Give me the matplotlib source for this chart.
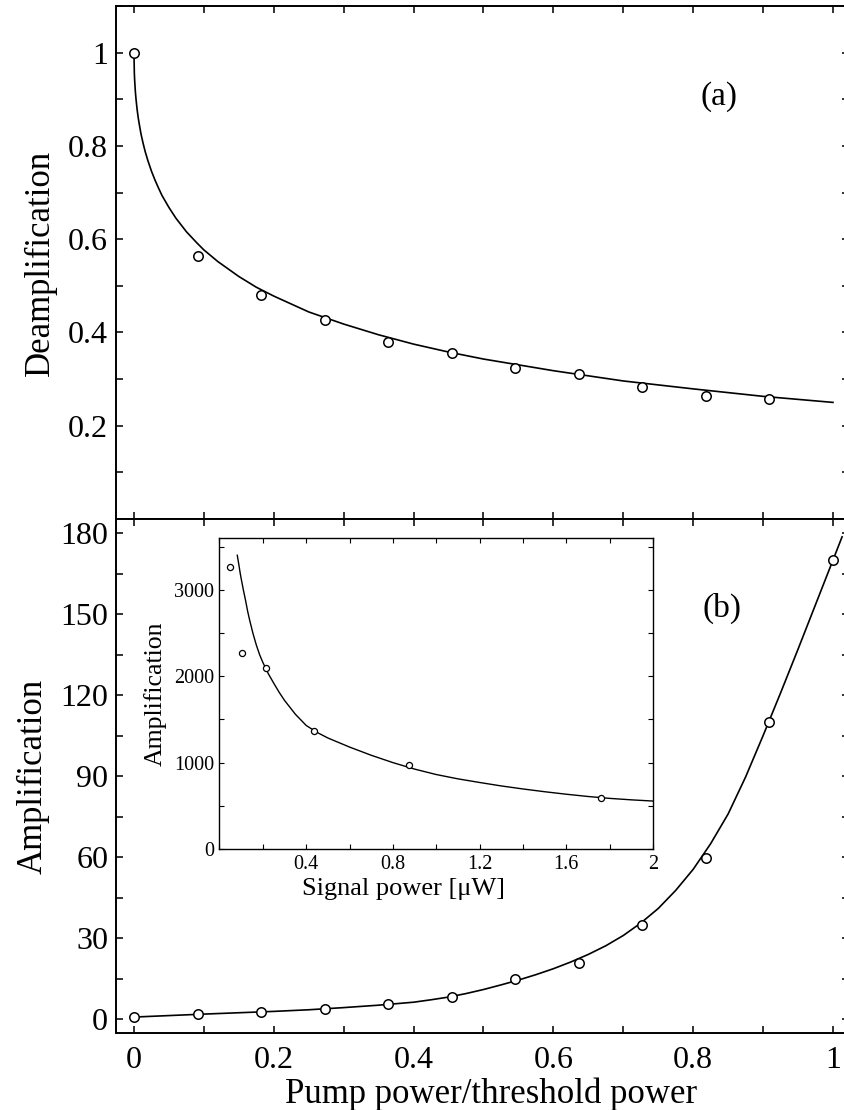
import matplotlib
matplotlib.use("Agg")
import matplotlib.pyplot as plt
from matplotlib.ticker import MultipleLocator, FuncFormatter

plt.rcParams['font.family'] = ['Liberation Serif', 'DejaVu Serif']

############## data #######################################
pump = [0, 0.0909, 0.1818, 0.2727, 0.3636, 0.4545, 0.5455, 0.6364, 0.7273, 0.8182, 0.9091, 1.0]

# (a) deamplification: measured points + fitted curve
deamp_pts = [1.0, 0.564, 0.481, 0.426, 0.380, 0.356, 0.324, 0.310, 0.282, 0.264, 0.257]
deamp_curve_x = [0, 0.0005, 0.001, 0.002, 0.003, 0.0045, 0.006, 0.008, 0.01, 0.013, 0.016,
                 0.02, 0.025, 0.03, 0.035, 0.04, 0.05, 0.06, 0.075, 0.09, 0.1, 0.12,
                 0.15, 0.175, 0.2, 0.25, 0.3, 0.35, 0.4, 0.45, 0.5, 0.6, 0.7, 0.8, 0.9, 1.0]
deamp_curve_y = [1.0, 0.957, 0.940, 0.916, 0.899, 0.878, 0.861, 0.843, 0.826, 0.806, 0.788,
                 0.768, 0.746, 0.727, 0.710, 0.694, 0.668, 0.645, 0.616, 0.592, 0.577, 0.552,
                 0.520, 0.497, 0.478, 0.444, 0.418, 0.395, 0.375, 0.358, 0.343, 0.318, 0.296,
                 0.279, 0.263, 0.25]

# (b) amplification: measured points + fitted curve
amp_pts = [0.85, 1.96, 2.96, 4.07, 5.9, 8.4, 14.9, 20.9, 34.9, 59.8, 110.0, 170.0]
amp_curve_x = [0, 0.05, 0.1, 0.15, 0.2, 0.25, 0.3, 0.35, 0.4, 0.425, 0.45, 0.475, 0.5,
               0.525, 0.55, 0.575, 0.6, 0.625, 0.65, 0.675, 0.7, 0.725, 0.75, 0.775,
               0.8, 0.825, 0.85, 0.875, 0.9, 0.925, 0.95, 0.975, 1.0, 1.013]
amp_curve_y = [0.9, 1.45, 2.0, 2.5, 3.0, 3.6, 4.4, 5.3, 6.4, 7.3, 8.3, 9.6, 11.1,
               12.8, 14.6, 16.6, 18.8, 21.3, 24.1, 27.3, 31.1, 35.7, 41.1, 47.8,
               55.6, 65.1, 76.1, 89.8, 105.1, 120.9, 137.1, 153.6, 170.1, 178.7]

# inset: amplification vs signal power
sig_pts_x = [0.05, 0.105, 0.215, 0.435, 0.876, 1.76]
sig_pts_y = [3270, 2270, 2090, 1365, 975, 592]
sig_curve_x = [0.082, 0.086, 0.09, 0.095, 0.1, 0.11, 0.12, 0.13, 0.14, 0.155, 0.17, 0.185,
               0.2, 0.225, 0.25, 0.275, 0.3, 0.35, 0.4, 0.45, 0.5, 0.6, 0.7, 0.8, 0.9,
               1.0, 1.1, 1.2, 1.3, 1.4, 1.5, 1.6, 1.7, 1.8, 1.9, 2.0]
sig_curve_y = [3400, 3340, 3280, 3200, 3130, 3000, 2880, 2750, 2640, 2490, 2360, 2250,
               2160, 2030, 1920, 1815, 1720, 1560, 1430, 1350, 1285, 1180, 1085, 1000, 925,
               862, 812, 770, 730, 695, 663, 634, 608, 586, 569, 555]

############## figure ##################
W, H = 845, 1110
fig = plt.figure(figsize=(W / 100, H / 100), dpi=100)

left = 116.5 / W
width = (849 - 116.5) / W
ax_a = fig.add_axes([left, 1 - 519 / H, width, (519 - 6) / H])
ax_b = fig.add_axes([left, 1 - 1033 / H, width, (1033 - 519) / H])
ins = fig.add_axes([219.5 / W, 1 - 849 / H, (653 - 219.5) / W, (849 - 538) / H])
xmin, xmax = -0.025, 1.0229


def style(ax, lw, tlen, size, pad):
    for s in ax.spines.values():
        s.set_linewidth(lw)
    ax.tick_params(which='both', direction='in', top=True, right=True,
                   length=tlen, width=lw * 0.8, labelsize=size, pad=pad)


fmt = FuncFormatter(lambda v, p: f"{v:g}")
fmt_no0 = FuncFormatter(lambda v, p: "" if abs(v) < 1e-9 else f"{v:g}")

# panel (a)
ax_a.plot(deamp_curve_x, deamp_curve_y, color='black', lw=1.2)
ax_a.plot(pump[:11], deamp_pts, 'o', mfc='white', mec='black', ms=6.8, mew=1.1)
ax_a.set_xlim(xmin, xmax)
ax_a.set_ylim(0, 1.1)
ax_a.xaxis.set_major_locator(MultipleLocator(0.2))
ax_a.xaxis.set_minor_locator(MultipleLocator(0.1))
ax_a.yaxis.set_major_locator(MultipleLocator(0.2))
ax_a.yaxis.set_minor_locator(MultipleLocator(0.1))
ax_a.yaxis.set_major_formatter(fmt_no0)
style(ax_a, 1.4, 5, 23, 6)
ax_a.spines['right'].set_visible(False)  # right edge is cut off in the original
ax_a.tick_params(axis='x', labelbottom=False)
ax_a.set_ylabel("Deamplification", fontsize=25, labelpad=8)
ax_a.text(0.822, 0.823, "(a)", transform=ax_a.transAxes, fontsize=24,
          ha='center', va='center')

# panel (b)
ax_b.plot(amp_curve_x, amp_curve_y, color='black', lw=1.2)
ax_b.plot(pump, amp_pts, 'o', mfc='white', mec='black', ms=6.8, mew=1.1)
ax_b.set_xlim(xmin, xmax)
ax_b.set_ylim(-5, 185.3)
ax_b.xaxis.set_major_locator(MultipleLocator(0.2))
ax_b.xaxis.set_minor_locator(MultipleLocator(0.1))
ax_b.yaxis.set_major_locator(MultipleLocator(30))
ax_b.yaxis.set_minor_locator(MultipleLocator(15))
ax_b.xaxis.set_major_formatter(fmt)
ax_b.yaxis.set_major_formatter(fmt)
style(ax_b, 1.4, 5, 23, 6)
ax_b.spines['right'].set_visible(False)
ax_b.tick_params(axis='x', pad=9)
ax_b.set_xlabel("Pump power/threshold power", fontsize=25)
ax_b.xaxis.set_label_coords((491 - 116.5) / (849 - 116.5), -0.0875)
ax_b.xaxis.label.set_va('top')
ax_b.set_ylabel("Amplification", fontsize=25, labelpad=8)
ax_b.text(0.826, 0.827, "(b)", transform=ax_b.transAxes, fontsize=24,
          ha='center', va='center')

# inset
ins.plot(sig_curve_x, sig_curve_y, color='black', lw=1.0)
ins.plot(sig_pts_x, sig_pts_y, 'o', mfc='white', mec='black', ms=4.4, mew=0.9)
ins.set_xlim(0, 2)
ins.set_ylim(0, 3600)
ins.xaxis.set_major_locator(MultipleLocator(0.4))
ins.xaxis.set_minor_locator(MultipleLocator(0.2))
ins.yaxis.set_major_locator(MultipleLocator(1000))
ins.yaxis.set_minor_locator(MultipleLocator(500))
ins.xaxis.set_major_formatter(fmt_no0)
ins.yaxis.set_major_formatter(fmt)
style(ins, 1.0, 3.5, 14.5, 4)
ins.set_xlabel("Signal power [μW]", fontsize=19)
ins.xaxis.set_label_coords((403 - 219.5) / (653 - 219.5), -0.092)
ins.xaxis.label.set_va('top')
ins.set_ylabel("Amplification", fontsize=18.5, labelpad=5)

fig.savefig("out.png", dpi=100)
